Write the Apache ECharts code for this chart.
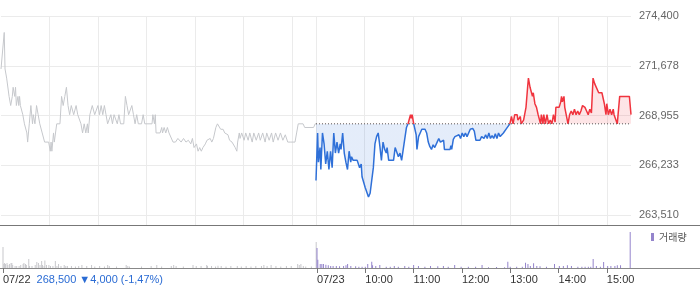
<!DOCTYPE html>
<html><head><meta charset="utf-8">
<script src="https://cdn.jsdelivr.net/npm/echarts@6/dist/echarts.min.js"></script>
<style>html,body{margin:0;padding:0;background:#fff}#c{width:700px;height:289px}</style>
</head><body><div id="c"></div>
<script>
// ---- data ----
const prevClose = 268500;
const yMin = 263510, yMax = 274400, yStep = 2722.5;
const timeTicks = [0, 390, 450, 510, 570, 630, 690, 750];
const timeTickLabels = ['07/22', '07/23', '10:00', '11:00', '12:00', '13:00', '14:00', '15:00'];
const gridMinutes = [60, 120, 180, 240, 300, 360, 390, 450, 510, 570, 630, 690, 750];
const dayInfoText = '268,500 \u25BC4,000 (-1,47%)';
const volumeLegend = '거래량';

const day1Price = [[0,271500],[2,271500],[4,273500],[5,271500],[7,271000],[9,271000],[10,270000],[12,269500],[14,270000],[15,270500],[17,270000],[18,270500],[19,269500],[21,270000],[22,269500],[23,270000],[24,269500],[27,269000],[29,268500],[32,268000],[33,267500],[35,268500],[37,269500],[39,268500],[40,269000],[42,268500],[44,269500],[46,269000],[48,268500],[51,268000],[54,267500],[59,267500],[61,267000],[62,267500],[63,267000],[65,268000],[66,267500],[69,268500],[71,268500],[73,268500],[75,270000],[77,269500],[79,270000],[81,270500],[83,269500],[85,269000],[87,269500],[88,269500],[90,269000],[93,269500],[95,269000],[97,269000],[99,268500],[101,268000],[103,268500],[105,268000],[107,268500],[108,268000],[110,269000],[113,269500],[114,269500],[116,269000],[118,269000],[120,269500],[122,269000],[124,269500],[126,269000],[128,269500],[130,269000],[132,268500],[134,268500],[136,269000],[138,268500],[140,269000],[142,269000],[144,268500],[146,269000],[148,268500],[152,268500],[154,270000],[156,269500],[158,269000],[160,269000],[162,269500],[164,269000],[166,268500],[168,269000],[170,268500],[174,268500],[176,269000],[178,268500],[187,268500],[188,269000],[190,268500],[191,269000],[192,268000],[194,268000],[197,268000],[199,268300],[200,268000],[202,268300],[204,268000],[206,268300],[208,268000],[210,268000],[213,267500],[216,267500],[219,267700],[223,267500],[226,267700],[229,267500],[232,267600],[235,267400],[237,267700],[239,267200],[242,267400],[244,267000],[246,267200],[248,267000],[250,267200],[253,267400],[255,267600],[257,267500],[259,267700],[261,267500],[263,267700],[265,267800],[266,268300],[268,268500],[270,268500],[272,268200],[275,268200],[277,268000],[279,268100],[281,267900],[283,267600],[286,267500],[288,267600],[290,267200],[292,267000],[293,267500],[295,268000],[296,267700],[298,268000],[301,267600],[303,268000],[306,267600],[308,268000],[311,267500],[313,268000],[316,267600],[319,268000],[321,267600],[324,268000],[327,267500],[329,268000],[332,267600],[335,268000],[337,267500],[340,268000],[343,267600],[346,268000],[349,267600],[352,267900],[355,267500],[358,267500],[364,267500],[366,268000],[368,268500],[374,268500],[376,268300],[387,268300],[389,268500],[390,268500]];

const day2Price = [[390,265400],[392,268000],[393,266400],[395,267200],[396,266000],[398,268000],[400,267400],[402,266300],[404,267000],[406,266000],[408,267000],[410,266100],[412,268000],[414,266900],[416,267500],[418,266900],[420,267400],[421,267100],[423,268000],[425,266900],[427,266400],[429,266000],[431,267000],[433,266400],[434,266700],[436,266500],[438,266600],[441,266500],[443,266400],[444,266100],[446,266300],[447,265600],[449,265500],[451,265000],[453,264900],[455,264500],[457,264700],[459,265400],[461,266100],[463,267400],[465,267800],[467,268000],[469,267300],[471,266500],[473,267500],[475,267100],[477,266900],[478,267200],[480,266500],[482,266500],[486,266500],[488,267200],[490,267100],[492,266700],[494,266900],[496,266500],[498,267100],[499,267400],[502,268300],[504,268500],[506,268500],[507,269000],[508,268800],[509,269000],[511,268500],[512,268400],[514,267900],[515,267100],[517,267800],[519,268000],[521,268200],[523,268250],[525,268200],[527,268000],[529,267500],[531,267250],[533,267100],[535,267350],[537,267200],[540,267500],[542,267700],[544,267500],[546,267400],[548,267600],[549,267100],[556,267100],[557,267300],[558,267100],[560,267650],[562,267800],[564,267700],[567,267900],[569,267700],[571,268000],[573,267800],[575,268000],[577,267800],[579,267900],[581,268200],[584,268250],[586,268100],[588,267600],[593,267600],[595,267800],[598,267700],[600,267900],[602,267700],[604,268000],[606,267700],[608,267850],[610,267700],[612,267950],[614,267700],[616,268000],[618,267800],[620,267900],[622,268000],[624,267950],[626,268250],[628,268300],[630,268500],[632,268900],[634,268500],[636,269000],[639,269000],[640,268700],[643,268900],[644,268500],[647,268700],[649,268700],[650,269400],[652,270500],[653,271000],[655,270500],[657,270400],[658,270000],[659,270200],[661,269600],[663,269400],[665,269000],[666,269000],[668,268500],[669,269000],[671,268500],[672,269000],[674,268500],[676,269000],[678,268500],[680,268700],[682,268500],[684,269000],[686,268600],[687,269400],[689,269300],[691,269400],[693,269700],[694,270000],[695,269700],[697,270000],[698,269400],[700,269400],[702,268500],[704,269000],[706,269200],[708,269000],[710,269300],[712,269000],[714,269200],[716,269000],[718,269200],[720,269500],[723,269400],[725,269200],[727,269000],[729,269300],[731,269100],[733,271000],[735,270700],[737,270600],[740,270200],[742,270300],[744,270200],[745,270200],[747,269600],[749,269000],[750,269600],[752,269000],[754,269300],[756,269000],[758,269300],[759,269000],[761,269100],[763,268500],[764,269000],[766,270000],[778,270000],[780,269000]];

const day1Volume = [[0,21],[1,4],[2,5],[3,4],[5,5],[6,3],[8,4],[10,5],[11,5],[12,3],[15,2],[17,2],[20,2],[22,3],[25,4],[26,5],[28,4],[29,3],[32,9],[33,2],[36,2],[40,3],[42,6],[44,5],[46,3],[48,7],[49,3],[51,2],[52,7.5],[54,3],[57,3],[59,2],[62,2],[65,7],[67,2],[69,4],[72,2],[76,3],[78,2],[80,2],[85,2],[90,1.5],[94,2],[98,3],[104,2],[110,3],[114,1.5],[120,2],[126,1.5],[130,3],[132,2],[141,1.5],[153,3],[155,2],[157,1.5],[172,1.5],[184,2],[191,3],[197,1.5],[209,2],[212,3],[215,2],[224,1.5],[236,3],[240,2],[246,2],[253,3],[254,2],[259,2],[264,1.5],[267,2.3],[271,2],[277,1.5],[283,2],[291,2],[296,1.5],[302,2],[308,1.5],[314,2],[321,2],[324,3],[328,2],[333,3],[339,2],[345,1.5],[352,2],[358,2],[366,4],[368,3],[370,4],[373,2],[376,1.5],[383,1.5],[389,26]];

const day2Volume = [[390,20],[391,8.3],[394,4],[396,4],[398,4],[401,3.3],[404,2.7],[407,2],[410,2],[414,2],[418,1.7],[423,2],[426,2.7],[428,4],[432,2],[438,1.7],[442,1.3],[446,1.3],[450,1.3],[453,4],[458,6.3],[459,2.7],[463,2],[468,3],[476,1.3],[481,1.3],[486,2],[491,1.3],[499,2],[504,1.3],[510,3],[516,2],[524,1.3],[531,2],[540,1.7],[547,2],[553,1.3],[561,3],[569,1.3],[578,1.3],[587,1.3],[595,3],[603,0.7],[613,1],[623,0.7],[627,6.3],[630,1.3],[638,1.3],[645,1.3],[649,5.3],[652,4],[655,2],[659,4.7],[663,2],[667,1.7],[675,1.3],[685,4],[691,2],[696,2],[701,2.7],[706,2],[714,1.3],[719,1.3],[723,1.3],[727,1.3],[730,1.3],[733,9],[737,2],[742,1.3],[746,6],[751,2],[755,2],[760,2],[763,2.7],[767,2.7],[779,36]];

// ---- chart ----
const minutes = [];
for (let i = 0; i <= 780; i++) minutes.push(String(i));
const labelAt = {};
timeTicks.forEach((m, i) => { labelAt[m] = timeTickLabels[i]; });
const gridAt = new Set(gridMinutes);
const font = "'Liberation Sans', Arial, sans-serif";

const chart = echarts.init(document.getElementById('c'), null, {renderer: 'canvas'});
chart.setOption({
  animation: false,
  textStyle: {fontFamily: font},
  grid: [
    {left: 1, right: 69, top: 16, height: 199},
    {left: 1, right: 69, top: 16, height: 209},
    {left: 1, right: 69, top: 227, height: 41}
  ],
  xAxis: [
    {type: 'category', gridIndex: 0, data: minutes, boundaryGap: false, show: false},
    {type: 'category', gridIndex: 1, data: minutes, boundaryGap: false,
     axisLine: {show: false}, axisTick: {show: false}, axisLabel: {show: false},
     splitLine: {show: true, interval: (i) => gridAt.has(i), lineStyle: {color: '#ebebeb', width: 1}}},
    {type: 'category', gridIndex: 2, data: minutes, boundaryGap: false,
     axisLine: {show: false},
     axisTick: {show: true, interval: (i) => (i in labelAt), length: 5, lineStyle: {color: '#777', width: 1}},
     axisLabel: {
       interval: (i) => (i in labelAt), align: 'left', margin: 6, fontSize: 11, color: '#333',
       formatter: (v) => {
         const m = Number(v);
         if (m === 0) return '{d|' + labelAt[m] + '}{i|' + dayInfoText + '}';
         return labelAt[m] || '';
       },
       rich: {
         d: {fontSize: 11, color: '#333', fontFamily: font},
         i: {fontSize: 11, color: '#2b6cd4', fontFamily: font, padding: [0, 0, 0, 6]}
       }
     },
     splitLine: {show: false}}
  ],
  yAxis: [
    {type: 'value', gridIndex: 0, position: 'right', min: yMin, max: yMax, interval: yStep,
     axisLine: {show: false}, axisTick: {show: false},
     axisLabel: {margin: 8, fontSize: 11, color: '#666', formatter: (v) => Math.round(v).toLocaleString('en-US')},
     splitLine: {show: true, lineStyle: {color: '#ebebeb', width: 1}}},
    {type: 'value', gridIndex: 1, show: false, min: 0, max: 1},
    {type: 'value', gridIndex: 2, show: false, min: 0, max: 41}
  ],
  visualMap: {
    type: 'piecewise', show: false, seriesIndex: 1, dimension: 1,
    pieces: [
      {gte: 250000, lte: prevClose, color: '#2f70d8'},
      {gt: prevClose, lte: 290000, color: '#f0343e'}
    ]
  },
  legend: {
    data: [volumeLegend], left: 651, top: 232, padding: 0, itemWidth: 3, itemHeight: 8,
    icon: 'rect', selectedMode: false,
    textStyle: {fontSize: 10, color: '#555', fontFamily: "'Noto Sans CJK KR', sans-serif"}
  },
  series: [
    {name: 'day1', type: 'line', xAxisIndex: 0, yAxisIndex: 0, data: day1Price,
     showSymbol: false, symbol: 'none', lineStyle: {color: '#c6c8cc', width: 1},
     itemStyle: {color: '#c6c8cc'}, z: 2},
    {name: 'day2', type: 'line', xAxisIndex: 0, yAxisIndex: 0, data: day2Price,
     showSymbol: false, symbol: 'none', lineStyle: {width: 1.5},
     areaStyle: {origin: prevClose, opacity: 0.13}, z: 3},
    {name: 'prev', type: 'line', xAxisIndex: 0, yAxisIndex: 0,
     data: [[390, prevClose], [780, prevClose]], symbol: 'none', silent: true,
     lineStyle: {color: '#555', width: 1, type: [1, 2]}, itemStyle: {color: '#555'}, z: 4},
    {name: volumeLegend + ' ', type: 'bar', xAxisIndex: 2, yAxisIndex: 2, data: day1Volume,
     barWidth: 1, barGap: '-100%', itemStyle: {color: '#c8c8cc'}},
    {name: volumeLegend, type: 'bar', xAxisIndex: 2, yAxisIndex: 2, data: day2Volume,
     barWidth: 1, barGap: '-100%', itemStyle: {color: '#9484cc'}}
  ],
  graphic: [
    {type: 'line', silent: true, shape: {x1: 0, y1: 225.5, x2: 700, y2: 225.5}, style: {stroke: '#777', lineWidth: 1}},
    {type: 'line', silent: true, shape: {x1: 0, y1: 268.5, x2: 700, y2: 268.5}, style: {stroke: '#888', lineWidth: 1}}
  ]
});
</script>
</body></html>
